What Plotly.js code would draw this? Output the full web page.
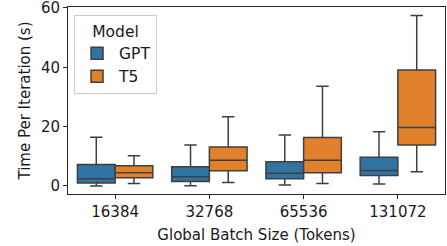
<!DOCTYPE html>
<html>
<head>
<meta charset="utf-8">
<script src="https://cdn.plot.ly/plotly-3.0.1.min.js"></script>
<style>html,body{margin:0;padding:0;background:#fff;}#chart{width:447px;height:246px;}</style>
</head>
<body>
<div id="chart"></div>
<script>
const categories = ["16384", "32768", "65536", "131072"];
// GPT
const gptLow    = [0.0, 0.1, 0.3, 0.7];
const gptQ1     = [1.0, 1.5, 2.4, 3.5];
const gptMedian = [2.4, 3.1, 4.3, 5.2];
const gptQ3     = [7.2, 6.5, 8.2, 9.7];
const gptHigh   = [16.4, 13.8, 17.2, 18.3];
// T5
const t5Low    = [0.8, 1.2, 0.8, 4.8];
const t5Q1     = [2.8, 5.1, 4.5, 13.8];
const t5Median = [4.5, 8.7, 8.7, 19.7];
const t5Q3     = [6.8, 13.1, 16.3, 39.1];
const t5High   = [10.2, 23.3, 33.6, 57.4];

const FONT = "DejaVu Sans, sans-serif";
const lineCol = "#3f3f3f";

function boxTrace(name, color, lo, q1, med, q3, hi) {
  return {
    type: "box", name: name, x: categories,
    lowerfence: lo, q1: q1, median: med, q3: q3, upperfence: hi,
    fillcolor: color, line: {color: lineCol, width: 1.5},
    whiskerwidth: 0.33, boxpoints: false, hoverinfo: "skip"
  };
}

const data = [
  boxTrace("GPT", "#3274a1", gptLow, gptQ1, gptMedian, gptQ3, gptHigh),
  boxTrace("T5", "#e1812c", t5Low, t5Q1, t5Median, t5Q3, t5High)
];

const layout = {
  width: 447, height: 246,
  margin: {l: 68, r: 2, t: 7, b: 52, autoexpand: false},
  paper_bgcolor: "#fff", plot_bgcolor: "#fff",
  font: {family: FONT, size: 15, color: "#1a1a1a"},
  boxmode: "group", boxgap: 0.2, boxgroupgap: 0,
  showlegend: true,
  xaxis: {
    type: "category", range: [-0.5, 3.5], automargin: false,
    showline: true, mirror: true, linecolor: "#262626", linewidth: 1,
    ticks: "outside", ticklen: 4, tickcolor: "#262626", showgrid: false, zeroline: false,
    tickfont: {size: 15},
    title: {text: "Global Batch Size (Tokens)", font: {size: 15}, standoff: 9}
  },
  yaxis: {
    range: [-2.7, 60.3], automargin: false,
    tickvals: [0, 20, 40, 60], ticktext: ["0", "20", "40", "60"],
    ticklabeloverflow: "allow",
    showline: true, mirror: true, linecolor: "#262626", linewidth: 1,
    ticks: "outside", ticklen: 4, tickcolor: "#262626", showgrid: false, zeroline: false,
    tickfont: {size: 15},
    title: {text: "Time Per Iteration (s)", font: {size: 15}, standoff: 6}
  },
  legend: {
    x: 0.016, y: 0.955, xanchor: "left", yanchor: "top",
    bgcolor: "rgba(255,255,255,0.8)", bordercolor: "#cccccc", borderwidth: 1,
    font: {size: 15.5},
    title: {text: "Model", side: "top center", font: {size: 15.5}},
    itemwidth: 34
  }
};

Plotly.newPlot("chart", data, layout, {displayModeBar: false, staticPlot: true});
</script>
</body>
</html>
